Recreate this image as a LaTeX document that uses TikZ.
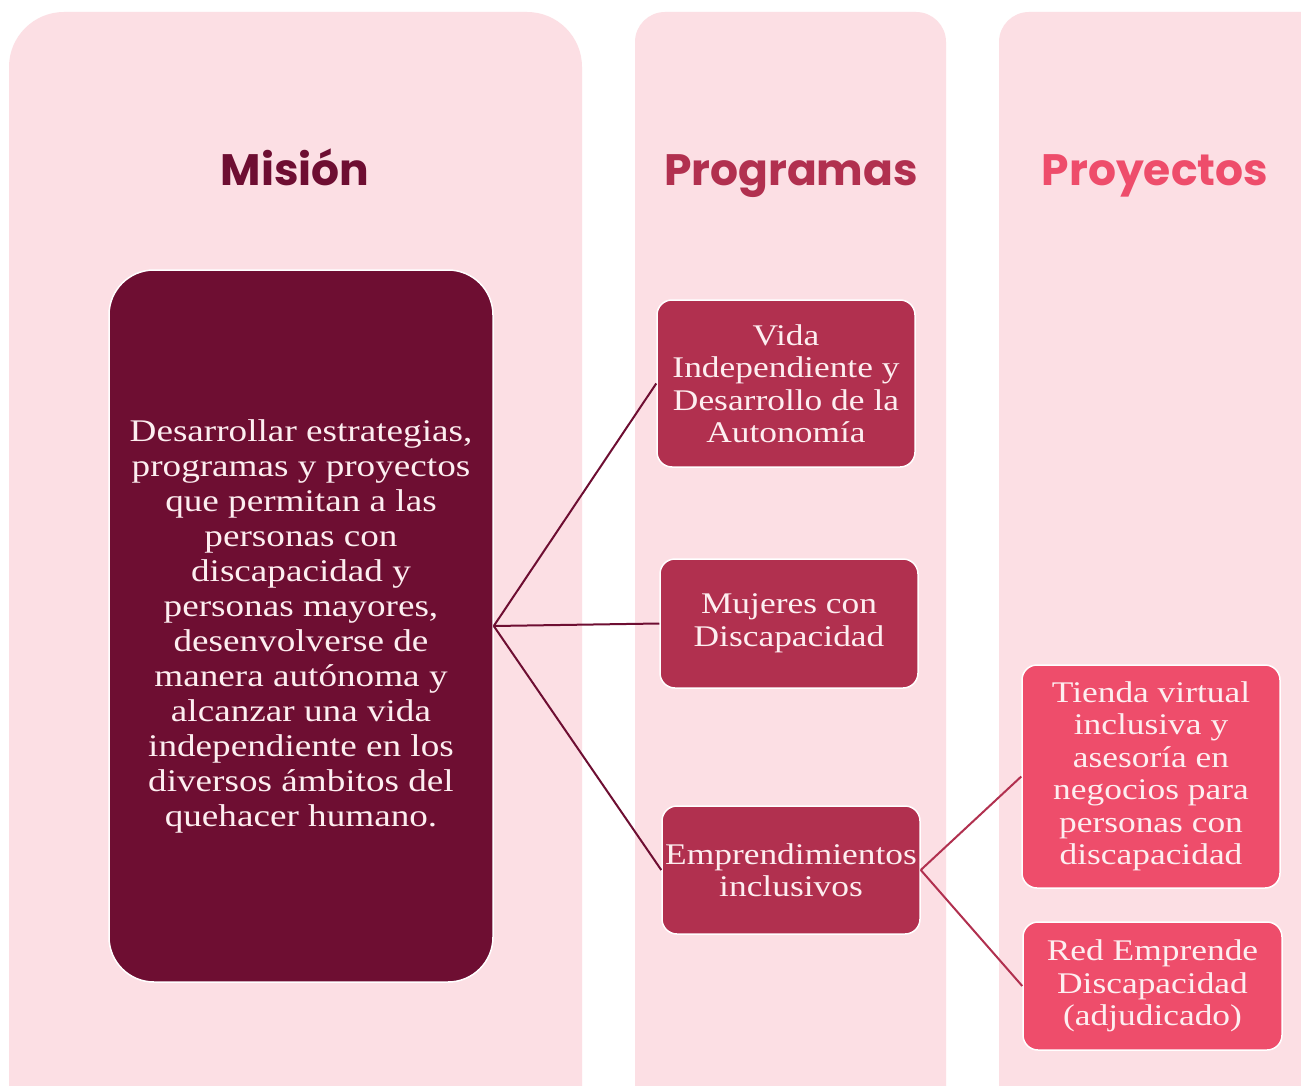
\documentclass[tikz,border=0pt]{standalone}
\usepackage{fontspec}
\setmainfont{Liberation Serif}[FakeStretch=1.18]
\newfontfamily\titlefont{Poppins}
\usepackage{xcolor}
\definecolor{vino}{HTML}{6E0E32}
\definecolor{rosa}{HTML}{B1304F}
\definecolor{coral}{HTML}{EE4D6B}
\definecolor{fondo}{HTML}{FCDFE4}
\definecolor{letra}{HTML}{FDEEF0}

\begin{document}
\begin{tikzpicture}[x=1pt,y=-1pt,
  titulo/.style={font=\titlefont\bfseries\fontsize{44}{48}\selectfont, anchor=base},
  caja/.style={draw=white, line width=1.5pt, rounded corners=15pt, text=letra,
    align=center, inner sep=0pt, minimum width=258pt,
    font=\fontsize{30}{32.5}\selectfont},
  linea/.style={line width=2pt}]
\clip (0,0) rectangle (1301,1086);
\fill[white] (0,0) rectangle (1301,1086);
% columnas
\fill[fondo, rounded corners=55pt] (9,12) rectangle (582,1150);
\fill[fondo, rounded corners=30pt] (635,12) rectangle (946,1150);
\fill[fondo, rounded corners=30pt] (999,12) rectangle (1380,1150);
\node[titulo, text=vino] (tmision) at (295,186) {Misión};
\node[titulo, text=rosa] (tprog) at (791,186) {Programas};
\node[titulo, text=coral] (tproy) at (1155,186) {Proyectos};
% mision
\node[caja, fill=vino, rounded corners=45pt, minimum width=384pt, minimum height=712pt,
  font=\fontsize{31.5}{35}\selectfont] (mision) at (301,626)
  {Desarrollar estrategias,\\programas y proyectos\\que permitan a las\\personas con\\discapacidad y\\personas mayores,\\desenvolverse de\\manera autónoma y\\alcanzar una vida\\independiente en los\\diversos ámbitos del\\quehacer humano.};
% programas
\node[caja, fill=rosa, minimum height=167pt] (vida) at (786,383.5)
  {Vida\\Independiente y\\Desarrollo de la\\Autonomía};
\node[caja, fill=rosa, minimum height=129pt] (mujeres) at (789,623.5)
  {Mujeres con\\Discapacidad};
\node[caja, fill=rosa, minimum height=128pt] (empr) at (791,870)
  {Emprendimientos\\inclusivos};
% proyectos
\node[caja, fill=coral, minimum height=223pt] (tienda) at (1151,776.5)
  {Tienda virtual\\inclusiva y\\asesoría en\\negocios para\\personas con\\discapacidad};
\node[caja, fill=coral, minimum height=128pt, minimum width=259pt] (red) at (1152.5,986)
  {Red Emprende\\Discapacidad\\(adjudicado)};
\foreach \p in {vida,mujeres,empr}
{	\draw[linea, vino] (mision.east) -- (\p.west);
}
\foreach \p in {tienda,red}
{	\draw[linea, rosa] (empr.east) -- (\p.west);
}
\end{tikzpicture}
\end{document}
